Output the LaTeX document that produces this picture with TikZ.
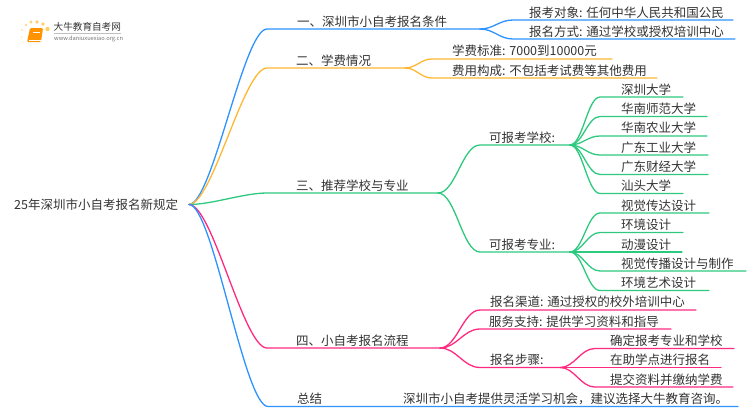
\documentclass[tikz,border=0pt]{standalone}
\usepackage{fontspec}
\usetikzlibrary{calc}
\setmainfont{Noto Sans CJK SC}
\definecolor{cblue}{HTML}{2C93FF}
\definecolor{corange}{HTML}{FFB733}
\definecolor{cgreen}{HTML}{2DC97F}
\definecolor{cpink}{HTML}{FF2A7F}
\definecolor{ctext}{HTML}{333333}
\newcommand{\bendfrac}{0.3}
% name, parent, colour, start x, end x, line y, text x, text y, text
\newcommand{\Bough}[9]{%
  \coordinate (#1s) at (#4,#6);
  \coordinate (#1e) at (#5,#6);
  \node[lbl] (#1) at (#7,#8) {#9};
  \draw[conn,#3] let \p1=(#2), \p2=(#1s) in
    (\p1) .. controls ({\x1+\bendfrac*(\x2-\x1)},\y1) and ({\x2-\bendfrac*(\x2-\x1)},\y2) .. (\p2) -- (#1e);
}
\tikzset{
  lbl/.style={anchor=west,inner sep=0pt,text=ctext,font=\fontsize{12.5}{14}\selectfont},
  conn/.style={line width=1.3pt,line cap=round},
}
\begin{document}
\begin{tikzpicture}[x=1pt,y=-1pt]
\useasboundingbox (0,0) rectangle (750,410);
% logo
\definecolor{cdot}{HTML}{FFCB5C}
\foreach \px/\py/\pr/\po in {26/25/1.4/0.7,31/22/1.7/0.85,37/22/1.9/0.9,43/24/1.8/0.9,47.5/29/2.2/0.95,22/30/1.2/0.55,22/37/1.1/0.35,23.5/42.5/1/0.25}
  \fill[cdot,opacity=\po] (\px,\py) circle (\pr);
\fill[orange!85!yellow,rounded corners=1.2pt] (30,28) -- (43,28) -- (41,42) -- (27,42) -- cycle;
\draw[white,line width=0.5pt] (29,39.8) -- (40.5,39.8) (33,32) -- (40,32);
\node[anchor=west,inner sep=0pt,text=ctext,font=\fontsize{9.6}{11}\selectfont] (logotitle) at (53.5,27) {大牛教育自考网};
\draw[black!25,line width=0.4pt] (54,33.3) -- (121,33.3);
\node[anchor=west,inner sep=0pt,text=black!55,font=\fontsize{5.7}{7}\selectfont] (logourl) at (54,38.9) {www.daniuxuexiao.org.cn};
% root
\node[lbl] (root) at (14,205) {25年深圳市小自考报名新规定};
\coordinate (hub) at (189,204.5);
% main branches
\Bough{b1}{hub}{cblue}{267}{480}{29}{297}{21.5}{一、深圳市小自考报名条件}
\Bough{b2}{hub}{corange}{267}{405}{68}{296}{60.5}{二、学费情况}
\Bough{b3}{hub}{cgreen}{267}{438}{193}{296}{186}{三、推荐学校与专业}
\Bough{b4}{hub}{cpink}{267}{440}{348}{296}{340.5}{四、小自考报名流程}
\Bough{b5}{hub}{cblue}{268}{738}{406.5}{297}{398.5}{总结}
\node[lbl] (sum) at (403,398.5) {深圳市小自考提供灵活学习机会，建议选择大牛教育咨询。};
\coordinate (j1) at (b1e); \coordinate (j2) at (b2e); \coordinate (j3) at (b3e); \coordinate (j4) at (b4e);
\renewcommand{\bendfrac}{0.42}
% branch 1
\Bough{a1}{j1}{cblue}{513}{733}{20}{529}{12.5}{报考对象: 任何中华人民共和国公民}
\Bough{a2}{j1}{cblue}{513}{735}{39}{529}{31.5}{报名方式: 通过学校或授权培训中心}
% branch 2
\Bough{c1}{j2}{corange}{432}{612}{59}{452}{51}{学费标准: 7000到10000元}
\Bough{c2}{j2}{corange}{432}{657}{78}{452}{70.5}{费用构成: 不包括考试费等其他费用}
% branch 3
\Bough{s}{j3}{cgreen}{480}{570}{145}{489}{137.5}{可报考学校:}
\Bough{m}{j3}{cgreen}{480}{570}{252}{489}{244.5}{可报考专业:}
\coordinate (js) at (se); \coordinate (jm) at (me);
\Bough{s1}{js}{cgreen}{600}{683}{97}{621}{89.5}{深圳大学}
\Bough{s2}{js}{cgreen}{600}{707}{116.5}{621}{108.5}{华南师范大学}
\Bough{s3}{js}{cgreen}{600}{707}{136}{621}{128}{华南农业大学}
\Bough{s4}{js}{cgreen}{600}{708}{155}{621}{147.5}{广东工业大学}
\Bough{s5}{js}{cgreen}{600}{708}{174.5}{621}{166.5}{广东财经大学}
\Bough{s6}{js}{cgreen}{600}{683}{193.5}{621}{186}{汕头大学}
\Bough{m1}{jm}{cgreen}{600}{709}{213}{621}{205.5}{视觉传达设计}
\Bough{m2}{jm}{cgreen}{600}{683}{232.5}{621}{225}{环境设计}
\Bough{m3}{jm}{cgreen}{600}{682}{252}{621}{244.5}{动漫设计}
\Bough{m4}{jm}{cgreen}{600}{746}{271}{621}{263.5}{视觉传播设计与制作}
\Bough{m5}{jm}{cgreen}{600}{709}{290.5}{621}{283}{环境艺术设计}
% branch 4
\Bough{p1}{j4}{cpink}{480}{696}{310}{490}{302}{报名渠道: 通过授权的校外培训中心}
\Bough{p2}{j4}{cpink}{480}{671}{329}{489}{322}{服务支持: 提供学习资料和指导}
\Bough{p3}{j4}{cpink}{480}{560}{367.5}{490}{360}{报名步骤:}
\coordinate (jp) at (p3e);
\Bough{q1}{jp}{cpink}{595}{734}{348.5}{610}{341}{确定报考专业和学校}
\Bough{q2}{jp}{cpink}{595}{721}{367.5}{610}{360}{在助学点进行报名}
\Bough{q3}{jp}{cpink}{595}{733}{387}{610}{379.5}{提交资料并缴纳学费}
\end{tikzpicture}
\end{document}
